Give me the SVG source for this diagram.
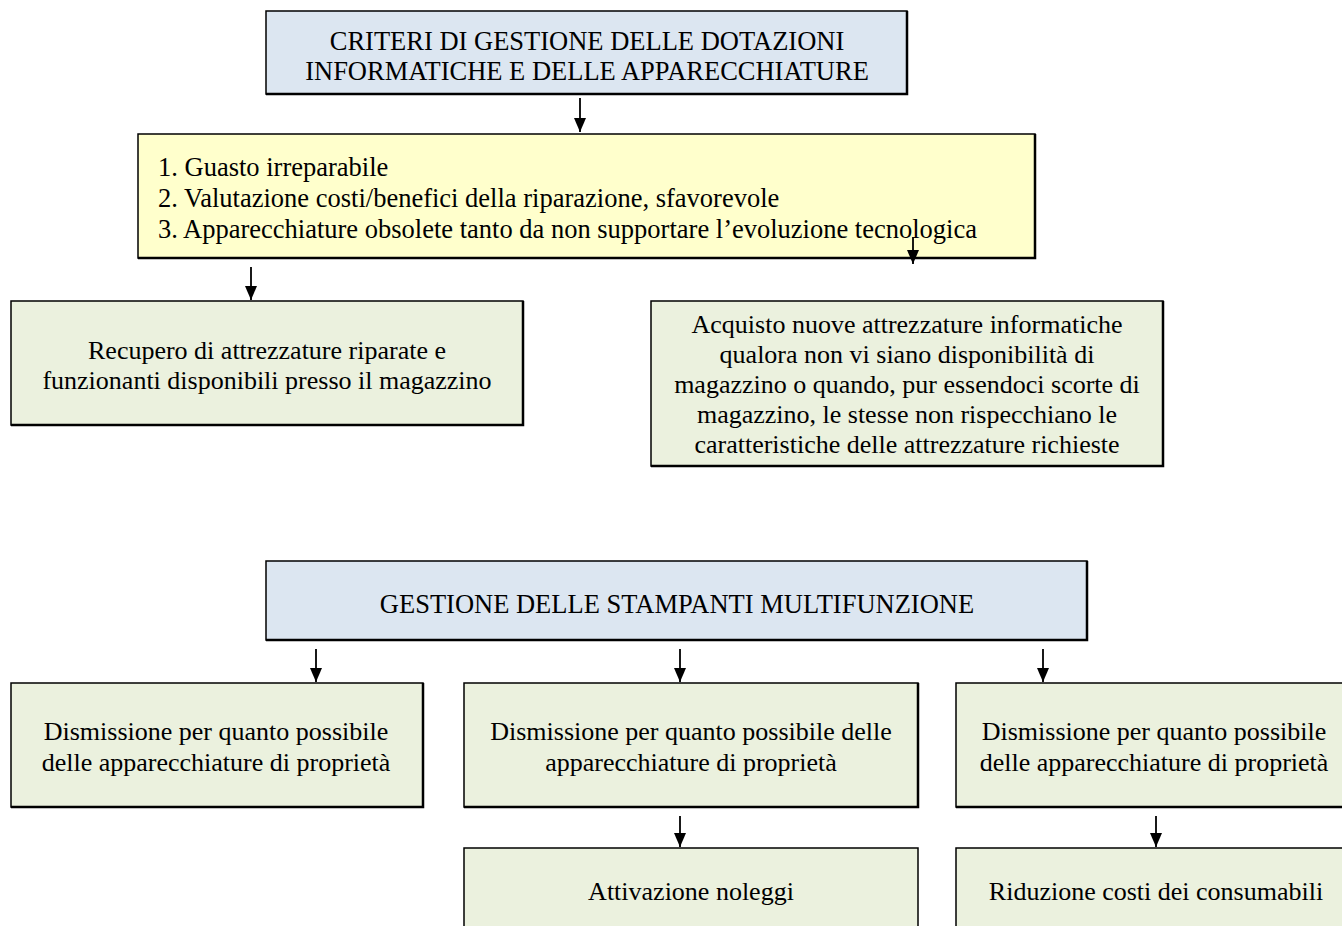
<svg xmlns="http://www.w3.org/2000/svg" width="1342" height="926" viewBox="0 0 1342 926">
<defs>
<marker id="arr" markerWidth="14" markerHeight="12" refX="14" refY="6" orient="auto" markerUnits="userSpaceOnUse">
<path d="M0,0 L14,6 L0,12 Z" fill="#000"/>
</marker>
<style>
.t{font-family:"Liberation Serif","Times New Roman",serif;font-size:26px;fill:#000}
.b{font-size:26.5px}
.c{text-anchor:middle}
.blue{fill:#dce6f1;stroke:#000;stroke-width:1.5}
.yel{fill:#ffffcc;stroke:#000;stroke-width:1.5}
.grn{fill:#ebf1de;stroke:#000;stroke-width:1.5}
.sh{stroke:#000;stroke-width:2.5;fill:none}
.con line{stroke:#000;stroke-width:1.8;marker-end:url(#arr)}
</style>
</defs>
<rect width="1342" height="926" fill="#fff"/>
<g id="n1">
<rect class="blue" x="266" y="11" width="641" height="83"/>
<polyline class="sh" points="266,94 907,94 907,11"/>
<text class="t b c" x="587" y="50">CRITERI DI GESTIONE DELLE DOTAZIONI</text>
<text class="t b c" x="587" y="80">INFORMATICHE E DELLE APPARECCHIATURE</text>
</g>
<g id="n2">
<rect class="yel" x="138" y="134" width="897" height="124"/>
<polyline class="sh" points="138,258 1035,258 1035,134"/>
<text class="t b" x="158" y="176">1. Guasto irreparabile</text>
<text class="t b" x="158" y="207">2. Valutazione costi/benefici della riparazione, sfavorevole</text>
<text class="t b" x="158" y="238">3. Apparecchiature obsolete tanto da non supportare l’evoluzione tecnologica</text>
</g>
<g id="n3">
<rect class="grn" x="11" y="301" width="512" height="124"/>
<polyline class="sh" points="11,425 523,425 523,301"/>
<text class="t c" x="267" y="359">Recupero di attrezzature riparate e</text>
<text class="t c" x="267" y="389">funzionanti disponibili presso il magazzino</text>
</g>
<g id="n4">
<rect class="grn" x="651" y="301" width="512" height="165"/>
<polyline class="sh" points="651,466 1163,466 1163,301"/>
<text class="t c" x="907" y="333">Acquisto nuove attrezzature informatiche</text>
<text class="t c" x="907" y="363">qualora non vi siano disponibilità di</text>
<text class="t c" x="907" y="393">magazzino o quando, pur essendoci scorte di</text>
<text class="t c" x="907" y="423">magazzino, le stesse non rispecchiano le</text>
<text class="t c" x="907" y="453">caratteristiche delle attrezzature richieste</text>
</g>
<g id="n5">
<rect class="blue" x="266" y="561" width="821" height="79"/>
<polyline class="sh" points="266,640 1087,640 1087,561"/>
<text class="t b c" x="677" y="613">GESTIONE DELLE STAMPANTI MULTIFUNZIONE</text>
</g>
<g id="n6">
<rect class="grn" x="11" y="683" width="412" height="124"/>
<polyline class="sh" points="11,807 423,807 423,683"/>
<text class="t c" x="216" y="740">Dismissione per quanto possibile</text>
<text class="t c" x="216" y="771">delle apparecchiature di proprietà</text>
</g>
<g id="n7">
<rect class="grn" x="464" y="683" width="454" height="124"/>
<polyline class="sh" points="464,807 918,807 918,683"/>
<text class="t c" x="691" y="740">Dismissione per quanto possibile delle</text>
<text class="t c" x="691" y="771">apparecchiature di proprietà</text>
</g>
<g id="n8">
<rect class="grn" x="956" y="683" width="400" height="124"/>
<polyline class="sh" points="956,807 1356,807"/>
<text class="t c" x="1154" y="740">Dismissione per quanto possibile</text>
<text class="t c" x="1154" y="771">delle apparecchiature di proprietà</text>
</g>
<g id="n9">
<rect class="grn" x="464" y="848" width="454" height="100"/>
<text class="t c" x="691" y="900">Attivazione noleggi</text>
</g>
<g id="n10">
<rect class="grn" x="956" y="848" width="400" height="100"/>
<text class="t c" x="1156" y="900">Riduzione costi dei consumabili</text>
</g>
<g id="connectors" class="con">
<line x1="580" y1="98" x2="580" y2="132"/>
<line x1="251" y1="267" x2="251" y2="300"/>
<line x1="913" y1="237" x2="913" y2="264"/>
<line x1="316" y1="649" x2="316" y2="682"/>
<line x1="680" y1="649" x2="680" y2="682"/>
<line x1="1043" y1="649" x2="1043" y2="682"/>
<line x1="680" y1="816" x2="680" y2="847"/>
<line x1="1156" y1="816" x2="1156" y2="847"/>
</g>
</svg>
